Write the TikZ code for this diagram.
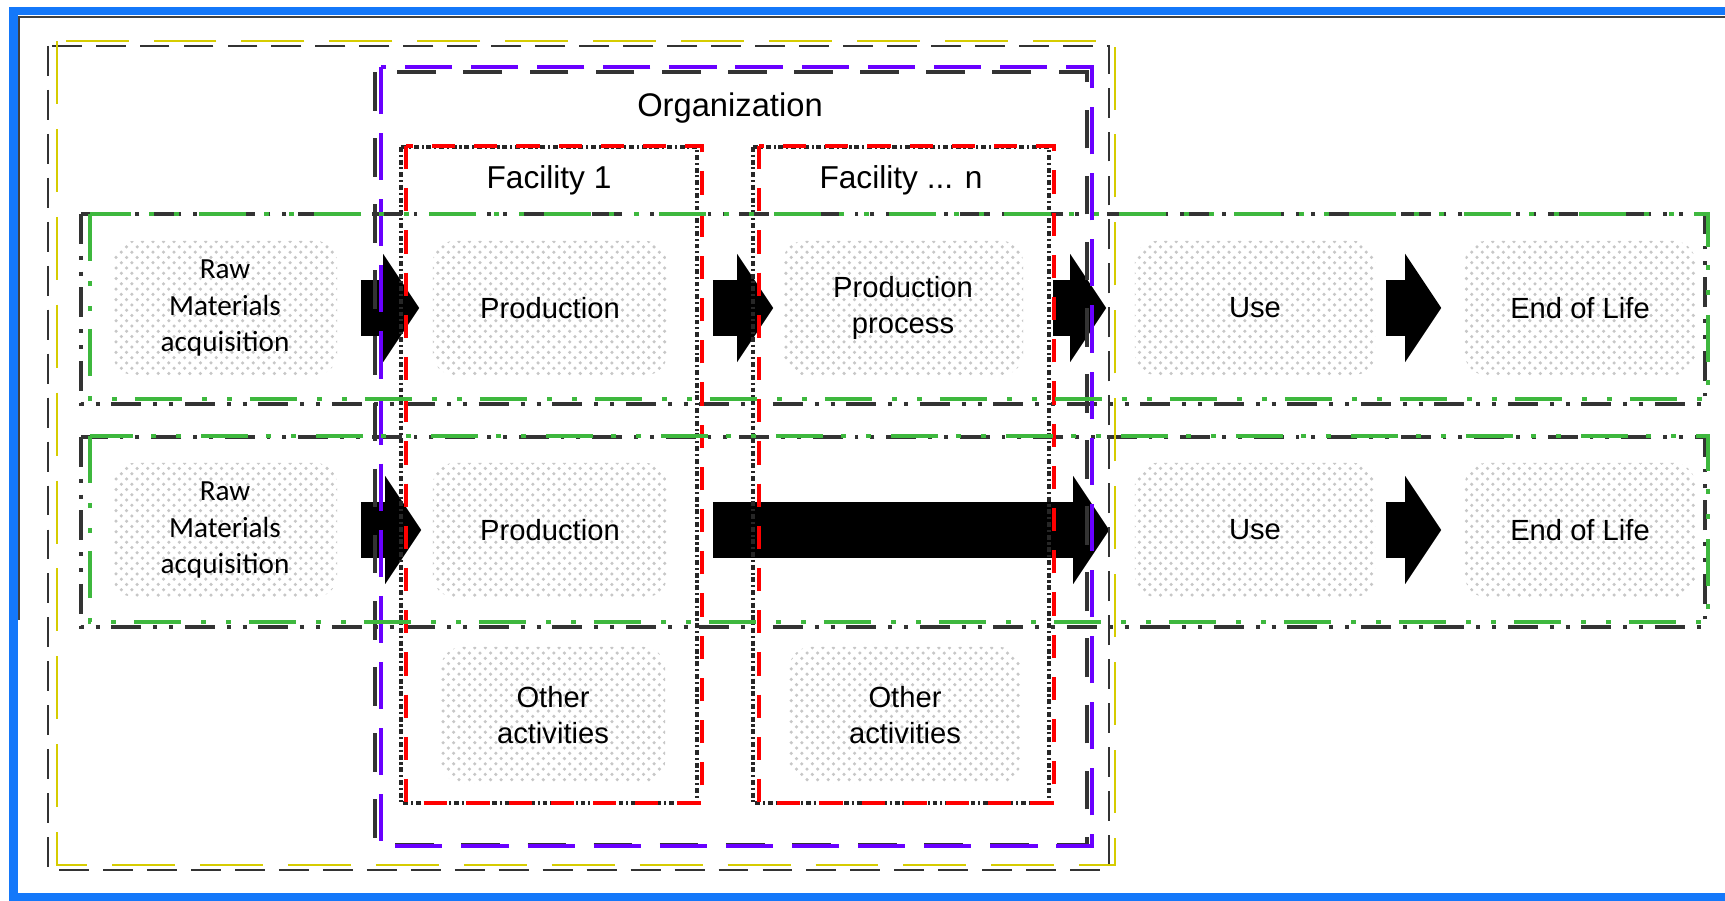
\documentclass[tikz,border=0pt]{standalone}
\usepackage{fontspec}
\setmainfont{Liberation Sans}
\newfontfamily\rawfont{Carlito}
\usetikzlibrary{arrows.meta,patterns}
\definecolor{frameblue}{RGB}{20,120,250}
\definecolor{chainyellow}{RGB}{214,204,0}
\definecolor{orgpurple}{RGB}{105,0,255}
\definecolor{facred}{RGB}{255,0,0}
\definecolor{rowgreen}{RGB}{62,184,62}
\newcommand{\stagefont}{\fontsize{8.3}{10.3}\selectfont}

\begin{document}
\begin{tikzpicture}[x=0.01cm,y=-0.01cm,
    stagebox/.style={rounded corners=6pt, pattern=crosshatch dots, pattern color=black!22,
      align=center, inner sep=0pt, minimum height=1.34cm, font=\stagefont},
    flowarrow/.style={line width=0.55cm, -{Triangle[length=0.36cm,width=1.08cm,line width=0pt]}},
    chainscan/.style={black!80, line width=0.8pt, dash pattern=on 8.5pt off 4pt},
    chainline/.style={chainyellow, line width=0.7pt, dash pattern=on 17.9pt off 7.1pt},
    orgscan/.style={black!80, line width=0.9pt, dash pattern=on 11pt off 7.8pt},
    orgline/.style={orgpurple, line width=1.4pt, dash pattern=on 13.4pt off 5.4pt},
    facscan/.style={black!85, line width=0.9pt, dash pattern=on 1.4pt off 0.8pt on 0.6pt off 0.8pt},
    facline/.style={facred, line width=1.4pt, dash pattern=on 6.6pt off 5.4pt},
    rowscan/.style={black!80, line width=0.9pt, dash pattern=on 8.5pt off 3.4pt on 1.1pt off 3.4pt on 1.1pt off 3.4pt},
    rowline/.style={rowgreen, line width=1.3pt, dash pattern=on 13.4pt off 5.7pt on 1.4pt off 5.7pt on 1.4pt off 5.1pt},
  ]
  \useasboundingbox (0,0) rectangle (1725,901);
  \fill[white] (0,0) rectangle (1725,901);

  % Stages, first value chain
  \node[stagebox, minimum width=2.24cm, font=\rawfont\stagefont] (raw1) at (225,308) {Raw\\Materials\\acquisition};
  \node[stagebox, minimum width=2.34cm] (prod1) at (550,308) {Production};
  \node[stagebox, minimum width=2.40cm] (procn) at (903,308) {Production\\process};
  \node[stagebox, minimum width=2.40cm] (use1) at (1255,308) {Use};
  \node[stagebox, minimum width=2.30cm] (eol1) at (1580,308) {End of Life};
  % Stages, second value chain
  \node[stagebox, minimum width=2.24cm, font=\rawfont\stagefont] (raw2) at (225,530) {Raw\\Materials\\acquisition};
  \node[stagebox, minimum width=2.34cm] (prod2) at (550,530) {Production};
  \node[stagebox, minimum width=2.40cm] (use2) at (1255,530) {Use};
  \node[stagebox, minimum width=2.30cm] (eol2) at (1580,530) {End of Life};
  % Other activities
  \node[stagebox, minimum width=2.24cm, minimum height=1.36cm] (oth1) at (553,715) {Other\\activities};
  \node[stagebox, minimum width=2.31cm, minimum height=1.36cm] (othn) at (905,715) {Other\\activities};
  %
  \node[font=\fontsize{9.3}{11}\selectfont] (orglabel) at (730,108) {Organization};
  \node[font=\fontsize{9}{11}\selectfont] (fac1label) at (549,180) {Facility 1};
  \node[font=\fontsize{9}{11}\selectfont] (facnlabel) at (901,180) {Facility ... n};

  % Flow arrows
  \draw[flowarrow, shorten <=0.23cm, shorten >=0.13cm] (raw1) -- (prod1);
  \draw[flowarrow, shorten <=0.45cm, shorten >=0.09cm] (prod1) -- (procn);
  \draw[flowarrow, shorten <=0.29cm, shorten >=0.28cm] (procn) -- (use1);
  \draw[flowarrow, shorten <=0.10cm, shorten >=0.23cm] (use1) -- (eol1);
  \draw[flowarrow, shorten <=0.23cm, shorten >=0.11cm] (raw2) -- (prod2);
  \draw[flowarrow, shorten <=0.45cm, shorten >=0.25cm] (prod2) -- (use2);
  \draw[flowarrow, shorten <=0.10cm, shorten >=0.23cm] (use2) -- (eol2);

  % Boundaries (scanned lines)
  \draw[chainscan] (48,46) rectangle (1109,870);
  \draw[orgscan] (375,72) rectangle (1087,845);
  \draw[facscan] (401,147) rectangle (697,803);
  \draw[facscan] (753,147) rectangle (1049,803);
  \draw[rowscan] (81,214) rectangle (1705,404);
  \draw[rowscan] (81,437) rectangle (1705,627);
  % Boundaries (colour marks)
  \draw[chainline] (57,41) rectangle (1115,865);
  \draw[orgline] (381,67) rectangle (1092,846);
  \draw[facline] (406,146) rectangle (702,803);
  \draw[facline] (759,146) rectangle (1054,803);
  \draw[rowline] (90,214) rectangle (1708,399);
  \draw[rowline] (90,436) rectangle (1708,622);

  % Frame
  \draw[black!75, line width=0.5pt] (1725,17) -- (19,17) -- (19,620);
  \draw[frameblue, line width=2.3pt] (1725,11) -- (13.5,11) -- (13.5,897) -- (1725,897);
\end{tikzpicture}
\end{document}
